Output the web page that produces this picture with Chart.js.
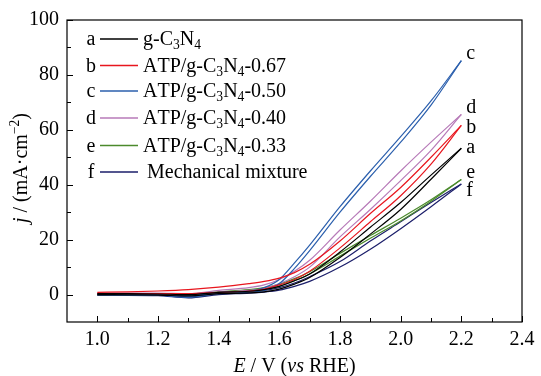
<!DOCTYPE html>
<html><head><meta charset="utf-8">
<script src="https://cdn.jsdelivr.net/npm/chart.js@4/dist/chart.umd.min.js"></script>
<style>html,body{margin:0;padding:0;background:#fff}</style>
</head><body>
<canvas id="c" width="541" height="376"></canvas>
<script>
// ---- data ----
const potential = [1.0, 1.1, 1.2, 1.3, 1.4, 1.5, 1.55, 1.6, 1.65, 1.7, 1.8, 1.9, 2.0, 2.1, 2.2];
const seriesLetters = ['a', 'b', 'c', 'd', 'e', 'f'];
const seriesNames = ['g-C₃N₄', 'ATP/g-C₃N₄-0.67', 'ATP/g-C₃N₄-0.50', 'ATP/g-C₃N₄-0.40', 'ATP/g-C₃N₄-0.33', 'Mechanical mixture'];
// two sweeps per sample (upper and lower branch of the loop)
const a_sweep1 = [0.3, 0.3, 0.2, 0.0, 0.8, 1.2, 1.8, 3.0, 5.0, 7.5, 15.5, 24.5, 33.5, 43.5, 53.3];
const a_sweep2 = [0.0, -0.1, -0.2, -0.5, 0.3, 0.6, 1.0, 2.0, 3.8, 6.2, 13.5, 22.0, 31.0, 42.0, 53.3];
const b_sweep1 = [0.8, 1.0, 1.3, 1.8, 2.7, 4.0, 4.8, 6.0, 8.0, 11.0, 19.5, 29.5, 39.0, 50.0, 61.6];
const b_sweep2 = [0.3, 0.3, 0.3, 0.3, 0.8, 1.3, 2.0, 3.5, 5.5, 8.5, 17.0, 26.5, 36.0, 47.5, 61.6];
const c_sweep1 = [0.3, 0.2, 0.0, -0.5, 0.8, 1.3, 2.5, 5.5, 11.5, 18.0, 32.0, 45.0, 57.5, 70.5, 85.2];
const c_sweep2 = [0.0, -0.2, -0.3, -1.0, 0.3, 0.8, 1.5, 4.0, 9.5, 16.0, 30.0, 43.0, 55.5, 69.0, 85.2];
const d_sweep1 = [0.5, 0.5, 0.5, 0.3, 1.5, 2.5, 3.5, 5.5, 8.5, 12.5, 23.5, 34.0, 45.0, 55.5, 65.6];
const d_sweep2 = [0.2, 0.2, 0.2, 0.0, 0.8, 1.5, 2.2, 4.0, 6.5, 10.0, 21.0, 31.0, 41.5, 52.5, 65.6];
const e_sweep1 = [0.2, 0.2, 0.3, 0.2, 1.0, 1.8, 2.5, 3.8, 5.8, 8.3, 15.0, 21.5, 27.8, 34.5, 41.9];
const e_sweep2 = [0.0, 0.0, 0.0, -0.2, 0.6, 1.2, 1.8, 3.0, 5.0, 7.5, 14.0, 20.5, 26.8, 34.0, 41.9];
const f_sweep1 = [0.0, 0.0, 0.0, -0.8, 0.5, 1.0, 1.5, 2.5, 4.2, 6.5, 12.0, 19.5, 26.5, 33.5, 40.3];
const f_sweep2 = [-0.3, -0.3, -0.4, -1.2, 0.0, 0.5, 0.9, 1.6, 3.0, 4.8, 10.0, 16.5, 24.0, 32.0, 40.3];
const xTicks = [1.0, 1.2, 1.4, 1.6, 1.8, 2.0, 2.2, 2.4];
const yTicks = [0, 20, 40, 60, 80, 100];

// ---- styles ----
const colors = ['#000000', '#e8161e', '#2b5fad', '#b77ab8', '#4b8a2c', '#1b1e6a'];
const endLabelDy = [5, 8, -2, -1, -2, 12];   // pixel offsets of end letters
const FONT = '"Liberation Serif", "Times New Roman", serif';

const sweeps = [[a_sweep1, a_sweep2], [b_sweep1, b_sweep2], [c_sweep1, c_sweep2],
                [d_sweep1, d_sweep2], [e_sweep1, e_sweep2], [f_sweep1, f_sweep2]];
const datasets = [];
sweeps.forEach((pair, i) => {
  pair.forEach(arr => {
    datasets.push({
      data: potential.map((x, k) => ({x: x, y: arr[k]})),
      borderColor: colors[i], borderWidth: 1.2, pointRadius: 0,
      showLine: true, fill: false, cubicInterpolationMode: 'monotone'
    });
  });
});

const SUB = {'₀':'0','₁':'1','₂':'2','₃':'3','₄':'4','₅':'5','₆':'6','₇':'7','₈':'8','₉':'9'};
function drawRich(ctx, segs, x, y, size) {
  // segs: [{t, i (italic), sup}] ; subscript unicode digits handled automatically
  ctx.textBaseline = 'alphabetic'; ctx.textAlign = 'left';
  let cx = x;
  segs.forEach(s => {
    for (const ch of s.t) {
      let sz = size, dy = 0, c = ch;
      if (SUB[ch]) { c = SUB[ch]; sz = size * 0.68; dy = size * 0.2; }
      if (s.sup) { sz = size * 0.68; dy = -size * 0.38; }
      ctx.font = (s.i ? 'italic ' : '') + sz + 'px ' + FONT;
      ctx.fillText(c, cx, y + dy);
      cx += ctx.measureText(c).width;
    }
  });
  return cx - x;
}
function measureRich(ctx, segs, size) {
  let w = 0;
  segs.forEach(s => {
    for (const ch of s.t) {
      let sz = size, c = ch;
      if (SUB[ch]) { c = SUB[ch]; sz = size * 0.68; }
      if (s.sup) sz = size * 0.68;
      ctx.font = (s.i ? 'italic ' : '') + sz + 'px ' + FONT;
      w += ctx.measureText(c).width;
    }
  });
  return w;
}

const decor = {
  id: 'decor',
  afterDraw(chart) {
    const ctx = chart.ctx, ca = chart.chartArea;
    const xs = chart.scales.x, ys = chart.scales.y;
    ctx.save();
    ctx.strokeStyle = '#000'; ctx.lineWidth = 1.2;
    ctx.strokeRect(ca.left, ca.top, ca.right - ca.left, ca.bottom - ca.top);
    ctx.lineWidth = 1;
    ctx.beginPath();
    for (let v = 1.0; v <= 2.41; v += 0.1) {
      const px = Math.round(xs.getPixelForValue(v)) + 0.5;
      const major = Math.abs(v * 5 - Math.round(v * 5)) < 1e-6;
      ctx.moveTo(px, ca.bottom); ctx.lineTo(px, ca.bottom - (major ? 6 : 4));
    }
    for (let v = 0; v <= 100; v += 10) {
      const py = Math.round(ys.getPixelForValue(v)) + 0.5;
      const major = v % 20 === 0;
      ctx.moveTo(ca.left, py); ctx.lineTo(ca.left + (major ? 6 : 4), py);
    }
    ctx.stroke();

    // legend
    ctx.fillStyle = '#000';
    const rowY = [39, 65.5, 91, 118, 145.5, 172];
    seriesLetters.forEach((L, i) => {
      const y = rowY[i];
      ctx.font = '20px ' + FONT; ctx.textAlign = 'center'; ctx.textBaseline = 'alphabetic';
      ctx.fillStyle = '#000';
      ctx.fillText(L, 91, y + 6);
      ctx.strokeStyle = colors[i]; ctx.lineWidth = 1.3;
      ctx.beginPath(); ctx.moveTo(100, y); ctx.lineTo(138, y); ctx.stroke();
      drawRich(ctx, [{t: seriesNames[i]}], i === 5 ? 147 : 143, y + 6, 20);
    });

    // end letters
    sweeps.forEach((pair, i) => {
      const px = xs.getPixelForValue(potential[potential.length - 1]);
      const py = ys.getPixelForValue(pair[0][pair[0].length - 1]);
      ctx.font = '20px ' + FONT; ctx.textAlign = 'left'; ctx.textBaseline = 'alphabetic';
      ctx.fillStyle = '#000';
      ctx.fillText(seriesLetters[i], px + 5, py + endLabelDy[i]);
    });

    // x title
    const xt = [{t: 'E', i: true}, {t: ' / V ('}, {t: 'vs', i: true}, {t: ' RHE)'}];
    const wx = measureRich(ctx, xt, 20);
    drawRich(ctx, xt, (ca.left + ca.right) / 2 - wx / 2, 372, 20);
    // y title
    const yt = [{t: 'j', i: true}, {t: ' / (mA·cm'}, {t: '−2', sup: true}, {t: ')'}];
    const wy = measureRich(ctx, yt, 20);
    ctx.save();
    ctx.translate(27, 168); ctx.rotate(-Math.PI / 2);
    drawRich(ctx, yt, -wy / 2, 0, 20);
    ctx.restore();
    ctx.restore();
  }
};

new Chart(document.getElementById('c'), {
  type: 'scatter',
  data: {datasets: datasets},
  options: {
    responsive: false, animation: false,
    layout: {padding: {top: 18, right: 19, left: 0, bottom: 0}},
    plugins: {legend: {display: false}, tooltip: {enabled: false}},
    scales: {
      x: {
        type: 'linear', min: 0.9, max: 2.4,
        grid: {display: false, drawTicks: false}, border: {display: false},
        afterBuildTicks: s => { s.ticks = xTicks.map(v => ({value: v})); },
        afterFit: s => { s.height = 54; },
        ticks: {color: '#000', padding: 6, font: {family: FONT, size: 20},
                callback: v => Number(v).toFixed(1), maxRotation: 0, autoSkip: false}
      },
      y: {
        type: 'linear', min: -10, max: 100,
        grid: {display: false, drawTicks: false}, border: {display: false},
        afterBuildTicks: s => { s.ticks = yTicks.map(v => ({value: v})); },
        afterFit: s => { s.width = 67; },
        ticks: {color: '#000', padding: 8, font: {family: FONT, size: 20},
                callback: v => String(v), autoSkip: false}
      }
    }
  },
  plugins: [decor]
});
</script>
</body></html>
